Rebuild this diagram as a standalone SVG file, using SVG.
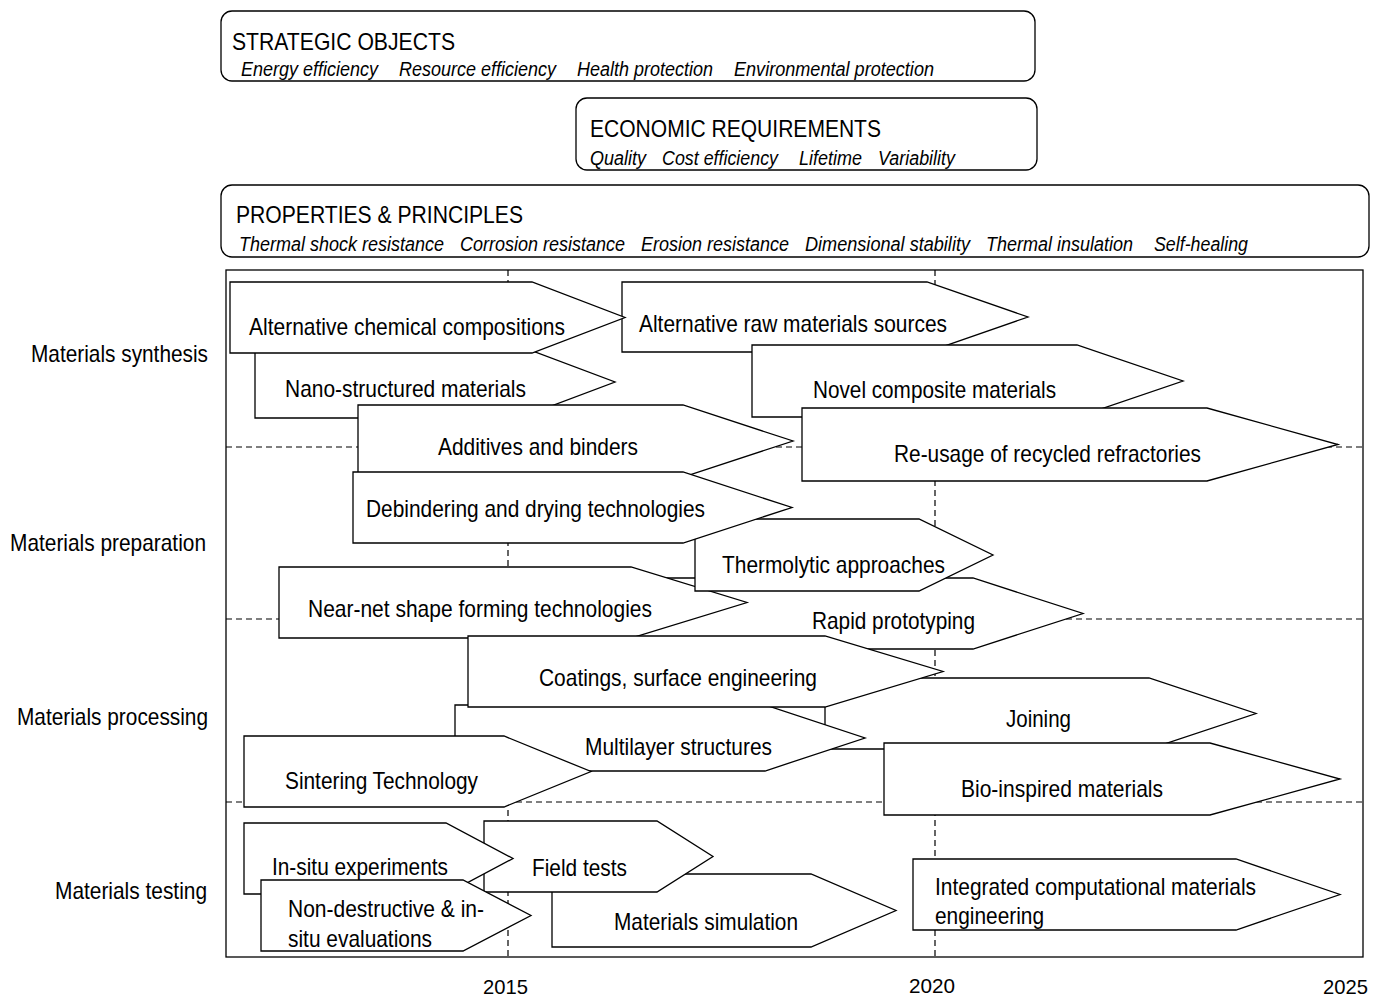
<svg xmlns="http://www.w3.org/2000/svg" width="1384" height="999" viewBox="0 0 1384 999">
<style>
.box{fill:#fff;stroke:#000;stroke-width:1.3}
.arr{fill:#fff;stroke:#000;stroke-width:1.3;stroke-linejoin:miter}
.frame{fill:#fff;stroke:#000;stroke-width:1.3}
.grid{stroke:#000;stroke-width:1.2;stroke-dasharray:6 4;fill:none}
text{font-family:"Liberation Sans",Arial,sans-serif;fill:#000}
.t{font-size:24px}
.h{font-size:24px}
.i{font-size:20px;font-style:italic}
.y{font-size:21px}
</style>

<g id="strategic">
<rect class="box" x="221" y="11" width="814" height="70" rx="11"/>
<text class="h" x="232" y="50" textLength="223" lengthAdjust="spacingAndGlyphs">STRATEGIC OBJECTS</text>
<text class="i" x="241" y="76" textLength="137" lengthAdjust="spacingAndGlyphs">Energy efficiency</text>
<text class="i" x="399" y="76" textLength="157" lengthAdjust="spacingAndGlyphs">Resource efficiency</text>
<text class="i" x="577" y="76" textLength="136" lengthAdjust="spacingAndGlyphs">Health protection</text>
<text class="i" x="734" y="76" textLength="200" lengthAdjust="spacingAndGlyphs">Environmental protection</text>
</g>

<g id="economic">
<rect class="box" x="576" y="98" width="461" height="72" rx="11"/>
<text class="h" x="590" y="137" textLength="291" lengthAdjust="spacingAndGlyphs">ECONOMIC REQUIREMENTS</text>
<text class="i" x="590" y="165" textLength="56" lengthAdjust="spacingAndGlyphs">Quality</text>
<text class="i" x="662" y="165" textLength="116" lengthAdjust="spacingAndGlyphs">Cost efficiency</text>
<text class="i" x="799" y="165" textLength="63" lengthAdjust="spacingAndGlyphs">Lifetime</text>
<text class="i" x="878" y="165" textLength="77" lengthAdjust="spacingAndGlyphs">Variability</text>
</g>

<g id="properties">
<rect class="box" x="221" y="185" width="1148" height="72" rx="11"/>
<text class="h" x="236" y="223" textLength="287" lengthAdjust="spacingAndGlyphs">PROPERTIES &amp; PRINCIPLES</text>
<text class="i" x="239" y="251" textLength="205" lengthAdjust="spacingAndGlyphs">Thermal shock resistance</text>
<text class="i" x="460" y="251" textLength="165" lengthAdjust="spacingAndGlyphs">Corrosion resistance</text>
<text class="i" x="641" y="251" textLength="148" lengthAdjust="spacingAndGlyphs">Erosion resistance</text>
<text class="i" x="805" y="251" textLength="165" lengthAdjust="spacingAndGlyphs">Dimensional stability</text>
<text class="i" x="986" y="251" textLength="147" lengthAdjust="spacingAndGlyphs">Thermal insulation</text>
<text class="i" x="1154" y="251" textLength="94" lengthAdjust="spacingAndGlyphs">Self-healing</text>
</g>

<g id="chart-frame">
<rect class="frame" x="226" y="270" width="1137" height="687"/>
<line class="grid" x1="508" y1="270" x2="508" y2="957"/>
<line class="grid" x1="935" y1="270" x2="935" y2="957"/>
<line class="grid" x1="226" y1="447" x2="1363" y2="447"/>
<line class="grid" x1="226" y1="619" x2="1363" y2="619"/>
<line class="grid" x1="226" y1="802" x2="1363" y2="802"/>
</g>

<g id="row-labels">
<text class="t" x="208" y="362" text-anchor="end" textLength="177" lengthAdjust="spacingAndGlyphs">Materials synthesis</text>
<text class="t" x="206" y="551" text-anchor="end" textLength="196" lengthAdjust="spacingAndGlyphs">Materials preparation</text>
<text class="t" x="208" y="725" text-anchor="end" textLength="191" lengthAdjust="spacingAndGlyphs">Materials processing</text>
<text class="t" x="207" y="899" text-anchor="end" textLength="152" lengthAdjust="spacingAndGlyphs">Materials testing</text>
</g>

<g id="year-labels">
<text class="y" x="483" y="994" textLength="45" lengthAdjust="spacingAndGlyphs">2015</text>
<text class="y" x="909" y="993" textLength="46" lengthAdjust="spacingAndGlyphs">2020</text>
<text class="y" x="1323" y="994" textLength="45" lengthAdjust="spacingAndGlyphs">2025</text>
</g>

<g id="nano-structured">
<polygon class="arr" points="255,346 519,346 615,382 519,418 255,418"/>
<text class="t" x="285" y="397" textLength="241" lengthAdjust="spacingAndGlyphs">Nano-structured materials</text>
</g>
<g id="alt-raw">
<polygon class="arr" points="622,282 927,282 1028,317 927,352 622,352"/>
<text class="t" x="639" y="332" textLength="308" lengthAdjust="spacingAndGlyphs">Alternative raw materials sources</text>
</g>
<g id="alt-chem">
<polygon class="arr" points="230,282 532,282 625,317.5 532,353 230,353"/>
<text class="t" x="249" y="335" textLength="316" lengthAdjust="spacingAndGlyphs">Alternative chemical compositions</text>
</g>
<g id="novel-composite">
<polygon class="arr" points="752,345 1077,345 1183,381 1077,417 752,417"/>
<text class="t" x="813" y="398" textLength="243" lengthAdjust="spacingAndGlyphs">Novel composite materials</text>
</g>
<g id="re-usage">
<polygon class="arr" points="802,408 1207,408 1338,444.5 1207,481 802,481"/>
<text class="t" x="894" y="462" textLength="307" lengthAdjust="spacingAndGlyphs">Re-usage of recycled refractories</text>
</g>
<g id="additives">
<polygon class="arr" points="358,405 683,405 793,441 683,477 358,477"/>
<text class="t" x="438" y="455" textLength="200" lengthAdjust="spacingAndGlyphs">Additives and binders</text>
</g>
<g id="rapid-prototyping">
<polygon class="arr" points="600,578 973,578 1083,613.5 973,649 600,649"/>
<text class="t" x="812" y="629" textLength="163" lengthAdjust="spacingAndGlyphs">Rapid prototyping</text>
</g>
<g id="near-net">
<polygon class="arr" points="279,567 631,567 747,602.5 631,638 279,638"/>
<text class="t" x="308" y="617" textLength="344" lengthAdjust="spacingAndGlyphs">Near-net shape forming technologies</text>
</g>
<g id="thermolytic">
<polygon class="arr" points="695,519 919,519 993,555 919,591 695,591"/>
<text class="t" x="722" y="573" textLength="223" lengthAdjust="spacingAndGlyphs">Thermolytic approaches</text>
</g>
<g id="debindering">
<polygon class="arr" points="353,472 683,472 792,507.5 683,543 353,543"/>
<text class="t" x="366" y="517" textLength="339" lengthAdjust="spacingAndGlyphs">Debindering and drying technologies</text>
</g>
<g id="joining">
<polygon class="arr" points="825,678 1149,678 1256,713.5 1149,749 825,749"/>
<text class="t" x="1006" y="727" textLength="65" lengthAdjust="spacingAndGlyphs">Joining</text>
</g>
<g id="bio-inspired">
<polygon class="arr" points="884,743 1210,743 1340,779 1210,815 884,815"/>
<text class="t" x="961" y="797" textLength="202" lengthAdjust="spacingAndGlyphs">Bio-inspired materials</text>
</g>
<g id="multilayer">
<polygon class="arr" points="455,705 765,705 865,738 765,771 455,771"/>
<text class="t" x="585" y="755" textLength="187" lengthAdjust="spacingAndGlyphs">Multilayer structures</text>
</g>
<g id="coatings">
<polygon class="arr" points="468,636 825,636 943,671.5 825,707 468,707"/>
<text class="t" x="539" y="686" textLength="278" lengthAdjust="spacingAndGlyphs">Coatings, surface engineering</text>
</g>
<g id="sintering">
<polygon class="arr" points="244,736 504,736 591,771.5 504,807 244,807"/>
<text class="t" x="285" y="789" textLength="193" lengthAdjust="spacingAndGlyphs">Sintering Technology</text>
</g>
<g id="materials-simulation">
<polygon class="arr" points="552,874 811,874 896,910.5 811,947 552,947"/>
<text class="t" x="614" y="930" textLength="184" lengthAdjust="spacingAndGlyphs">Materials simulation</text>
</g>
<g id="field-tests">
<polygon class="arr" points="484,821 657,821 713,856.5 657,892 484,892"/>
<text class="t" x="532" y="876" textLength="95" lengthAdjust="spacingAndGlyphs">Field tests</text>
</g>
<g id="in-situ">
<polygon class="arr" points="244,823 446,823 513,858.5 446,894 244,894"/>
<text class="t" x="272" y="875" textLength="176" lengthAdjust="spacingAndGlyphs">In-situ experiments</text>
</g>
<g id="non-destructive">
<polygon class="arr" points="261,880 463,880 531,915.5 463,951 261,951"/>
<text class="t" x="288" y="917" textLength="196" lengthAdjust="spacingAndGlyphs">Non-destructive &amp; in-</text>
<text class="t" x="288" y="947" textLength="144" lengthAdjust="spacingAndGlyphs">situ evaluations</text>
</g>
<g id="icme">
<polygon class="arr" points="913,859 1236,859 1340,894.5 1236,930 913,930"/>
<text class="t" x="935" y="895" textLength="321" lengthAdjust="spacingAndGlyphs">Integrated computational materials</text>
<text class="t" x="935" y="924" textLength="109" lengthAdjust="spacingAndGlyphs">engineering</text>
</g>

<g id="connectors"></g>
</svg>
